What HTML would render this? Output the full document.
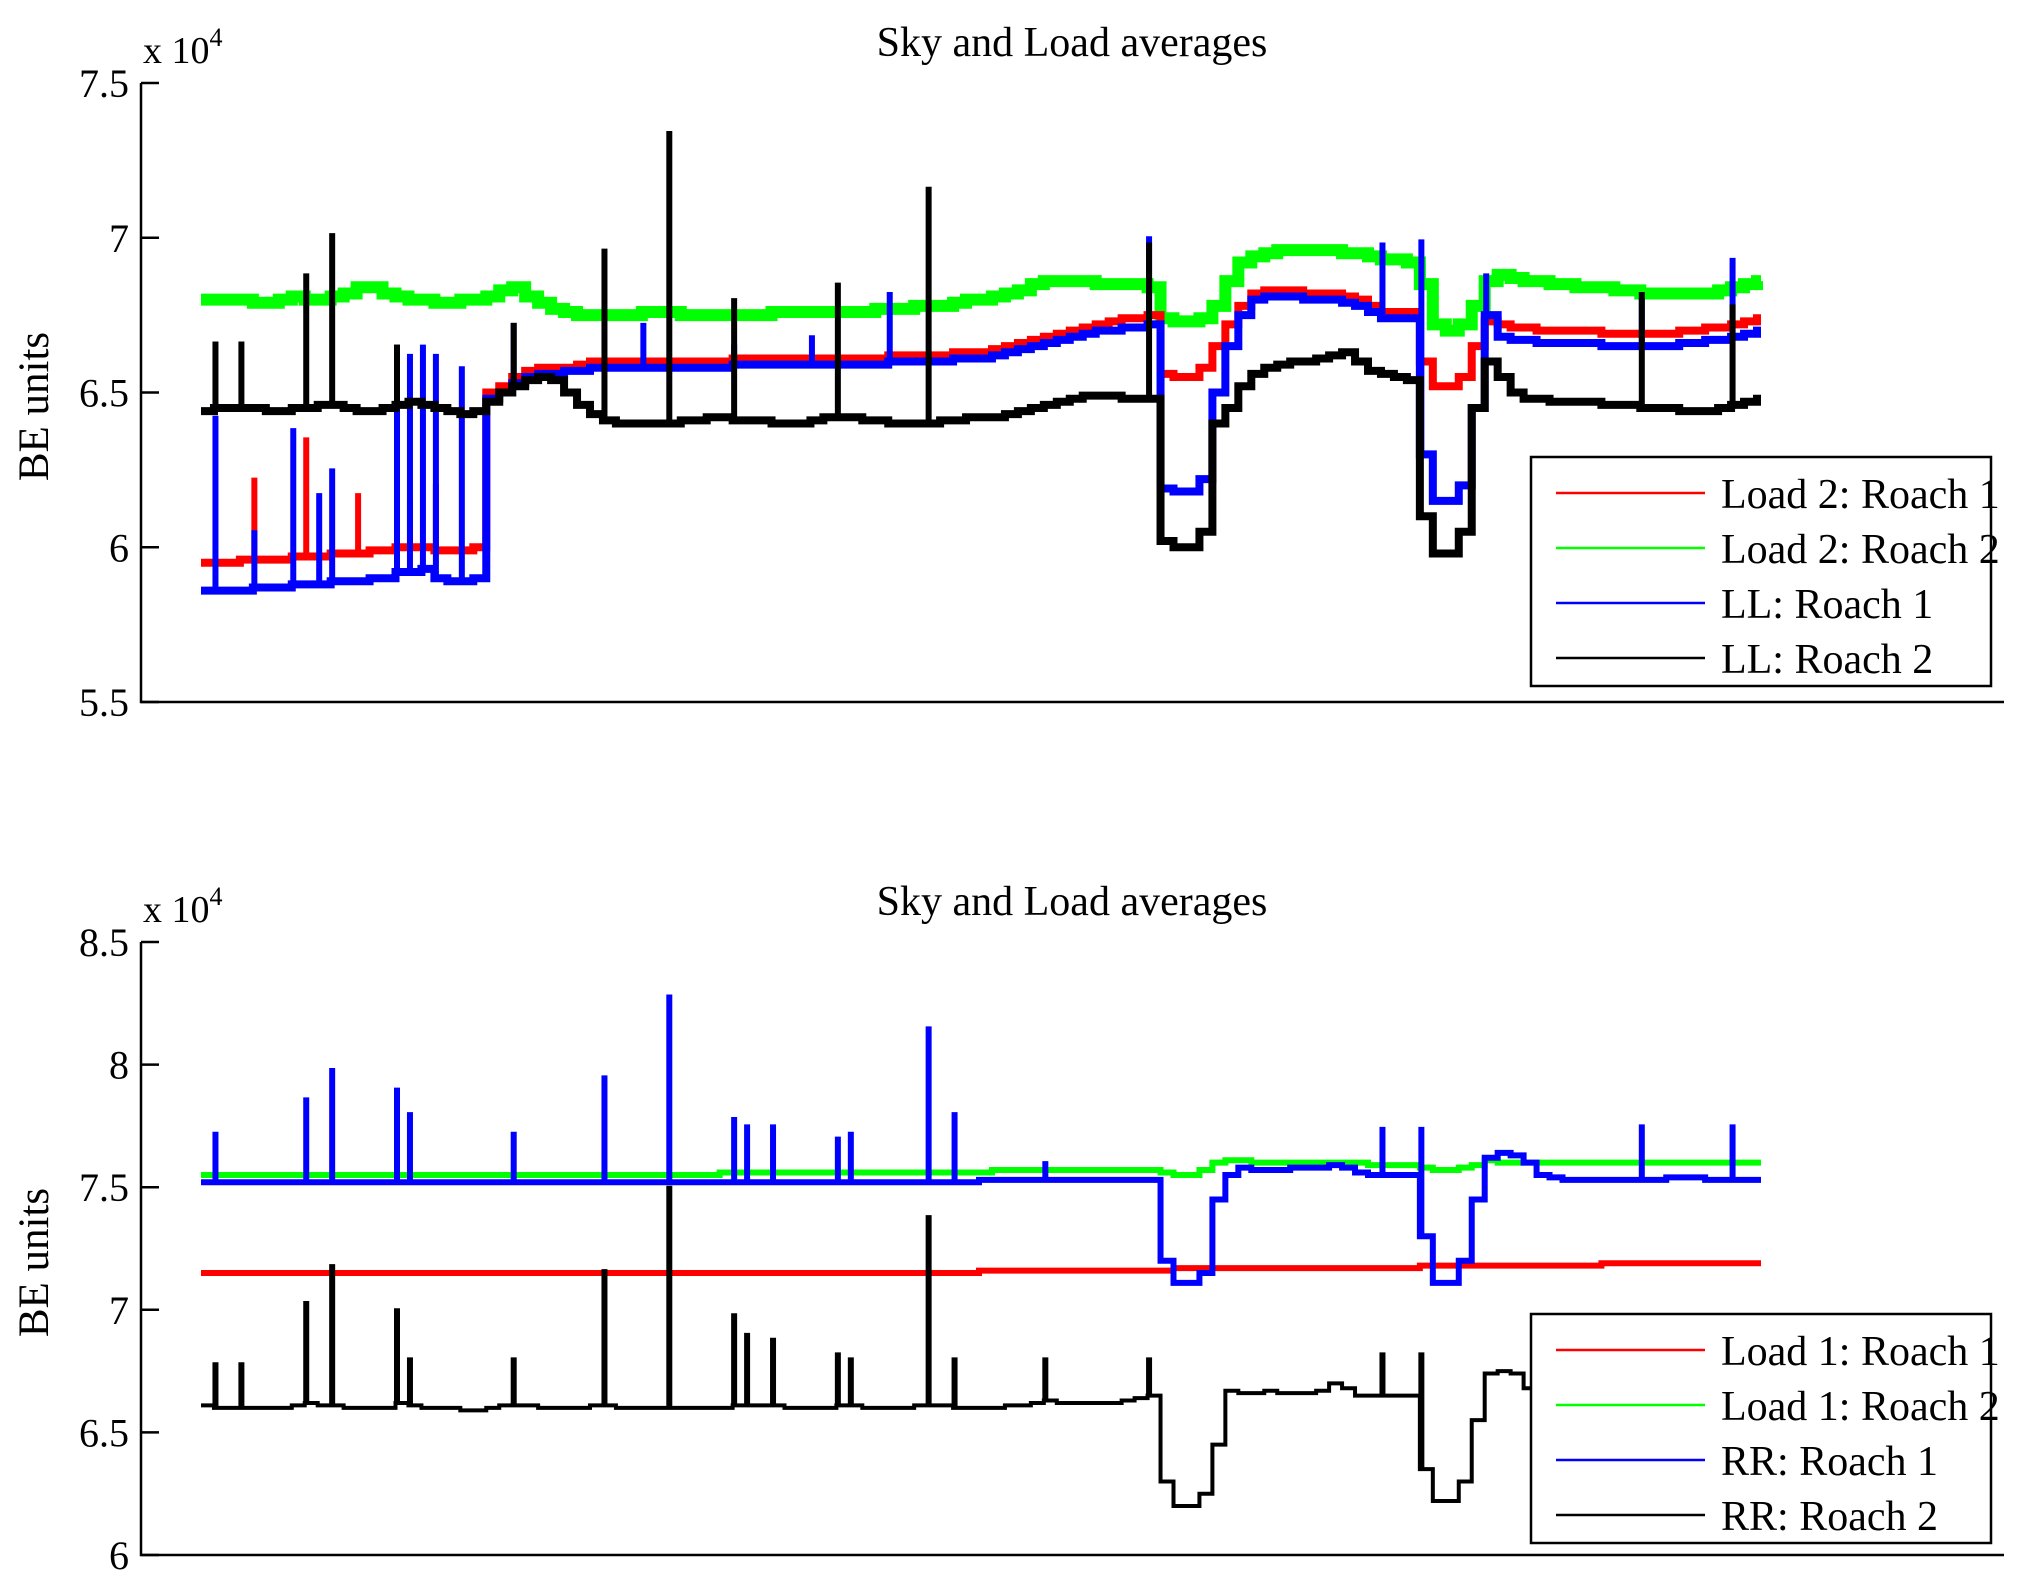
<!DOCTYPE html>
<html><head><meta charset="utf-8"><style>
body{margin:0;background:#fff}
svg{display:block}
text{font-family:"Liberation Serif",serif;fill:#000}
</style></head><body>
<svg id="chart" width="2029" height="1592" viewBox="0 0 2029 1592" xmlns="http://www.w3.org/2000/svg">
<rect width="2029" height="1592" fill="#fff"/>
<g id="top"></g>
<g id="bot"></g>
</svg>
<script>
const N = 121;
const topTicks = [5.5, 6, 6.5, 7, 7.5];
const botTicks = [6, 6.5, 7, 7.5, 8, 8.5];
const topTickLabels = ["5.5","6","6.5","7","7.5"];
const botTickLabels = ["6","6.5","7","7.5","8","8.5"];

const topRed = [5.95,5.95,5.95,5.96,5.96,5.96,5.96,5.97,5.97,5.97,5.98,5.98,5.98,5.99,5.99,6.00,6.00,6.00,5.99,5.99,5.99,6.00,
6.50,6.52,6.55,6.57,6.58,6.58,6.58,6.59,6.60,
6.60,6.60,6.60,6.60,6.60,6.60,6.60,6.60,6.60,6.60,6.61,6.61,6.61,6.61,6.61,6.61,6.61,6.61,6.61,6.61,6.61,6.61,6.62,6.62,6.62,6.62,6.62,6.63,6.63,6.63,
6.64,6.65,6.66,6.67,6.68,6.69,6.70,6.71,6.72,6.73,6.74,6.74,6.75,
6.56,6.55,6.55,6.58,6.65,6.72,6.78,
6.82,6.83,6.83,6.83,6.82,6.82,6.82,6.81,6.80,6.78,6.76,6.76,6.76,
6.60,6.52,6.52,6.55,6.65,6.73,
6.72,6.71,6.71,6.70,6.70,6.70,6.70,6.70,6.69,6.69,6.69,6.69,6.69,6.69,6.70,6.70,6.71,6.71,6.72,6.73,6.74];
const topGreen = [6.80,6.80,6.80,6.80,6.79,6.79,6.80,6.81,6.80,6.80,6.81,6.82,6.84,6.84,6.82,6.81,6.80,6.80,6.79,6.79,6.80,6.80,6.81,6.83,6.84,
6.81,6.79,6.77,6.76,6.75,6.75,6.75,6.75,6.75,6.76,6.76,6.76,6.75,6.75,6.75,6.75,6.75,6.75,6.75,6.76,6.76,
6.76,6.76,6.76,6.76,6.76,6.76,6.77,6.77,6.77,6.78,6.78,6.78,6.79,6.80,6.80,6.81,6.82,6.83,6.85,6.86,6.86,6.86,6.86,6.85,6.85,6.85,6.85,6.84,
6.74,6.73,6.73,6.74,6.78,6.86,
6.92,6.94,6.95,6.96,6.96,6.96,6.96,6.96,6.95,6.95,6.94,6.93,6.93,6.92,
6.85,6.72,6.70,6.72,6.78,6.86,
6.88,6.87,6.86,6.86,6.85,6.85,6.84,6.84,6.84,6.83,6.83,6.82,6.82,6.82,6.82,6.82,6.82,6.83,6.84,6.85,6.86];
const topBlue = [5.86,5.86,5.86,5.86,5.87,5.87,5.87,5.88,5.88,5.88,5.89,5.89,5.89,5.90,5.90,5.92,5.92,5.93,5.90,5.89,5.89,5.90,
6.48,6.50,6.53,6.55,6.56,6.56,6.57,6.57,6.58,
6.58,6.58,6.58,6.58,6.58,6.58,6.58,6.58,6.58,6.58,6.59,6.59,6.59,6.59,6.59,6.59,6.59,6.59,6.59,6.59,6.59,6.59,6.60,6.60,6.60,6.60,6.60,6.61,6.61,6.61,
6.62,6.63,6.64,6.65,6.66,6.67,6.68,6.69,6.70,6.70,6.71,6.71,6.72,
6.19,6.18,6.18,6.22,6.50,6.65,6.75,
6.80,6.81,6.81,6.81,6.80,6.80,6.80,6.79,6.78,6.76,6.74,6.74,6.74,
6.30,6.15,6.15,6.20,6.45,6.75,
6.68,6.67,6.67,6.66,6.66,6.66,6.66,6.66,6.65,6.65,6.65,6.65,6.65,6.65,6.66,6.66,6.67,6.67,6.68,6.69,6.70];
const topBlack = [6.44,6.45,6.45,6.45,6.45,6.44,6.44,6.45,6.45,6.46,6.46,6.45,6.44,6.44,6.45,6.46,6.47,6.46,6.45,6.44,6.43,6.44,
6.47,6.50,6.52,6.54,6.55,6.54,6.50,6.46,6.43,
6.41,6.40,6.40,6.40,6.40,6.40,6.41,6.41,6.42,6.42,6.41,6.41,6.41,6.40,6.40,6.40,6.41,6.42,6.42,6.42,6.41,6.41,6.40,6.40,6.40,6.40,6.41,6.41,6.42,6.42,
6.42,6.43,6.44,6.45,6.46,6.47,6.48,6.49,6.49,6.49,6.48,6.48,6.48,
6.02,6.00,6.00,6.05,6.40,6.45,6.52,
6.56,6.58,6.59,6.60,6.60,6.61,6.62,6.63,6.60,6.57,6.56,6.55,6.54,
6.10,5.98,5.98,6.05,6.45,6.60,
6.55,6.50,6.48,6.48,6.47,6.47,6.47,6.47,6.46,6.46,6.46,6.45,6.45,6.45,6.44,6.44,6.44,6.45,6.46,6.47,6.48];
const topBlackSpikeIdx = [1,3,8,10,15,24,31,36,41,49,56,73,111,118];
const topBlackSpikeVal = [6.66,6.66,6.88,7.01,6.65,6.72,6.96,7.34,6.80,6.85,7.16,6.98,6.82,6.78];
const topBlueSpikeIdx = [1,4,7,9,10,15,16,17,18,20,24,34,41,47,53,73,91,94,99,111,118];
const topBlueSpikeVal = [6.42,6.05,6.38,6.17,6.25,6.65,6.62,6.65,6.62,6.58,6.72,6.72,6.65,6.68,6.82,7.00,6.98,6.99,6.88,6.80,6.93];
const topRedSpikeIdx = [4,8,12,16,18];
const topRedSpikeVal = [6.22,6.35,6.17,6.15,6.20];

const botGreen = [7.55,7.55,7.55,7.55,7.55,7.55,7.55,7.55,7.55,7.55,7.55,7.55,7.55,7.55,7.55,7.55,7.55,7.55,7.55,7.55,
7.55,7.55,7.55,7.55,7.55,7.55,7.55,7.55,7.55,7.55,7.55,7.55,7.55,7.55,7.55,7.55,7.55,7.55,7.55,7.55,
7.56,7.56,7.56,7.56,7.56,7.56,7.56,7.56,7.56,7.56,7.56,7.56,7.56,7.56,7.56,7.56,7.56,7.56,7.56,7.56,7.56,
7.57,7.57,7.57,7.57,7.57,7.57,7.57,7.57,7.57,7.57,7.57,7.57,7.57,
7.56,7.55,7.55,7.57,
7.60,7.61,7.61,7.60,7.60,7.60,7.60,7.60,7.60,7.60,7.60,7.60,7.59,7.59,7.59,7.59,
7.58,7.57,7.57,7.58,7.59,7.61,
7.60,7.60,7.60,7.60,7.60,7.60,7.60,7.60,7.60,7.60,7.60,7.60,7.60,7.60,7.60,7.60,7.60,7.60,7.60,7.60,7.60];
const botRed = [7.15,7.15,7.15,7.15,7.15,7.15,7.15,7.15,7.15,7.15,7.15,7.15,7.15,7.15,7.15,7.15,7.15,7.15,7.15,7.15,
7.15,7.15,7.15,7.15,7.15,7.15,7.15,7.15,7.15,7.15,7.15,7.15,7.15,7.15,7.15,7.15,7.15,7.15,7.15,7.15,
7.15,7.15,7.15,7.15,7.15,7.15,7.15,7.15,7.15,7.15,7.15,7.15,7.15,7.15,7.15,7.15,7.15,7.15,7.15,7.15,
7.16,7.16,7.16,7.16,7.16,7.16,7.16,7.16,7.16,7.16,7.16,7.16,7.16,7.16,7.16,
7.17,7.17,7.17,7.17,7.17,7.17,7.17,7.17,7.17,7.17,7.17,7.17,7.17,7.17,7.17,7.17,7.17,7.17,7.17,
7.18,7.18,7.18,7.18,7.18,7.18,7.18,7.18,7.18,7.18,7.18,7.18,7.18,7.18,
7.19,7.19,7.19,7.19,7.19,7.19,7.19,7.19,7.19,7.19,7.19,7.19,7.19];
const botBlue = [7.52,7.52,7.52,7.52,7.52,7.52,7.52,7.52,7.52,7.52,7.52,7.52,7.52,7.52,7.52,7.52,7.52,7.52,7.52,7.52,
7.52,7.52,7.52,7.52,7.52,7.52,7.52,7.52,7.52,7.52,7.52,7.52,7.52,7.52,7.52,7.52,7.52,7.52,7.52,7.52,
7.52,7.52,7.52,7.52,7.52,7.52,7.52,7.52,7.52,7.52,7.52,7.52,7.52,7.52,7.52,7.52,7.52,7.52,7.52,7.52,
7.53,7.53,7.53,7.53,7.53,7.53,7.53,7.53,7.53,7.53,7.53,7.53,7.53,7.53,
7.20,7.11,7.11,7.15,
7.45,7.55,7.58,7.57,7.57,7.57,7.58,7.58,7.58,7.59,7.58,7.56,7.55,7.55,7.55,7.55,
7.30,7.11,7.11,7.20,7.45,7.62,
7.64,7.63,7.60,7.55,7.54,7.53,7.53,7.53,7.53,7.53,7.53,7.53,7.53,7.54,7.54,7.54,7.53,7.53,7.53,7.53,7.53];
const botBlack = [6.61,6.60,6.60,6.60,6.60,6.60,6.60,6.61,6.62,6.61,6.61,6.60,6.60,6.60,6.60,6.62,6.61,6.60,6.60,6.60,
6.59,6.59,6.60,6.61,6.61,6.61,6.60,6.60,6.60,6.60,6.61,6.61,6.60,6.60,6.60,6.60,6.60,6.60,6.60,6.60,
6.60,6.61,6.61,6.61,6.61,6.60,6.60,6.60,6.60,6.61,6.61,6.60,6.60,6.60,6.60,6.61,6.61,6.61,6.60,6.60,
6.60,6.60,6.61,6.61,6.62,6.63,6.62,6.62,6.62,6.62,6.62,6.63,6.64,6.65,
6.30,6.20,6.20,6.25,
6.45,6.67,6.66,6.66,6.67,6.66,6.66,6.66,6.67,6.70,6.68,6.65,6.65,6.65,6.65,6.65,
6.35,6.22,6.22,6.30,6.55,6.74,
6.75,6.74,6.68,6.64,6.63,6.63,6.63,6.63,6.63,6.63,6.63,6.63,6.63,6.63,6.63,6.63,6.63,6.63,6.63,6.63,6.63];
const botBlueSpikeIdx = [1,8,10,15,16,24,31,36,41,42,44,49,50,56,58,65,91,94,111,118];
const botBlueSpikeVal = [7.72,7.86,7.98,7.90,7.80,7.72,7.95,8.28,7.78,7.75,7.75,7.70,7.72,8.15,7.80,7.60,7.74,7.74,7.75,7.75];
const botBlackSpikeIdx = [1,3,8,10,15,16,24,31,36,41,42,44,49,50,56,58,65,73,91,94];
const botBlackSpikeVal = [6.78,6.78,7.03,7.18,7.00,6.80,6.80,7.16,7.50,6.98,6.90,6.88,6.82,6.80,7.38,6.80,6.80,6.80,6.82,6.82];

const NS = "http://www.w3.org/2000/svg";
const X0 = 141, X1 = 2004, DX0 = 201, DX1 = 1757;
function xOf(i){ return DX0 + i * (DX1 - DX0) / (N - 1); }
function mk(tag, parent){ const e = document.createElementNS(NS, tag); parent.appendChild(e); return e; }

function panel(g, yTop, yBot, vMax, vMin, ticks, labels, title, series, spikes, legend, legTop){
  const yOf = v => yTop + (vMax - v) * (yBot - yTop) / (vMax - vMin);
  series.forEach(s => {
    let pts = [];
    for (let i = 0; i < s.data.length; i++) {
      const y = yOf(s.data[i]);
      pts.push(xOf(i) + "," + y, (i < s.data.length - 1 ? xOf(i + 1) : xOf(i) + 4) + "," + y);
    }
    const pl = mk("polyline", g);
    
    
    pl.setAttribute("points", pts.join(" "));
    pl.setAttribute("fill", "none");
    pl.setAttribute("stroke", s.color);
    pl.setAttribute("stroke-width", s.w);
    const sp = spikes[s.name];
    if (sp) {
      for (let k = 0; k < sp.idx.length; k++) {
        const i = sp.idx[k];
        const ln = mk("path", g);
        
        
        const xa = xOf(i), xb = xOf(i) + 3, yb = yOf(s.data[i]), ya = yOf(sp.val[k]);
        ln.setAttribute("d", "M" + xa + "," + yb + "V" + ya + "H" + xb + "V" + yb);
        ln.setAttribute("fill", "none");
        ln.setAttribute("stroke", s.color);
        ln.setAttribute("stroke-width", 3);
      }
    }
  });
  const ax = mk("path", g);
  
  
  ax.setAttribute("d", "M" + X0 + "," + yTop + "V" + yBot + "H" + X1);
  ax.setAttribute("stroke", "#000"); ax.setAttribute("stroke-width", 2.5); ax.setAttribute("fill", "none");
  ticks.forEach((t, k) => {
    const y = yOf(t);
    const tk = mk("line", g);
    
    
    tk.setAttribute("x1", X0); tk.setAttribute("x2", X0 + 18); tk.setAttribute("y1", y); tk.setAttribute("y2", y);
    tk.setAttribute("stroke", "#000"); tk.setAttribute("stroke-width", 2.5);
    const tx = mk("text", g);
    
    
    tx.setAttribute("x", X0 - 12); tx.setAttribute("y", y + 14);
    tx.setAttribute("text-anchor", "end"); tx.setAttribute("font-size", "40");
    tx.textContent = labels[k];
  });
  const ex = mk("text", g);
  
  
  ex.setAttribute("x", 143); ex.setAttribute("y", yTop - 20); ex.setAttribute("font-size", "38");
  ex.innerHTML = 'x 10<tspan dy="-17" font-size="26">4</tspan>';
  const ti = mk("text", g);
  
  
  ti.setAttribute("x", 1072); ti.setAttribute("y", yTop - 27); ti.setAttribute("text-anchor", "middle"); ti.setAttribute("font-size", "42");
  ti.textContent = title;
  const yl = mk("text", g);
  
  
  const cy = (yTop + yBot) / 2 + 14;
  yl.setAttribute("transform", "translate(48," + cy + ") rotate(-90)");
  yl.setAttribute("text-anchor", "middle"); yl.setAttribute("font-size", "43");
  yl.textContent = "BE units";
  const lb = mk("rect", g);
  
  
  lb.setAttribute("x", 1531); lb.setAttribute("y", legTop); lb.setAttribute("width", 460); lb.setAttribute("height", 229);
  lb.setAttribute("fill", "#fff"); lb.setAttribute("stroke", "#000"); lb.setAttribute("stroke-width", 2.5);
  legend.forEach((L, k) => {
    const y = legTop + 36 + k * 55;
    const ll = mk("line", g);
    
    
    ll.setAttribute("x1", 1556); ll.setAttribute("x2", 1705); ll.setAttribute("y1", y); ll.setAttribute("y2", y);
    ll.setAttribute("stroke", L.color); ll.setAttribute("stroke-width", 2.5);
    const lt = mk("text", g);
    
    
    lt.setAttribute("x", 1721); lt.setAttribute("y", y + 15); lt.setAttribute("font-size", "42");
    lt.textContent = L.label;
  });
}

panel(document.getElementById("top"), 83, 702, 7.5, 5.5, topTicks, topTickLabels, "Sky and Load averages",
  [{name:"load2-roach2", data:topGreen, color:"#00ff00", w:12},
   {name:"load2-roach1", data:topRed, color:"#ff0000", w:8},
   {name:"ll-roach1", data:topBlue, color:"#0000ff", w:8},
   {name:"ll-roach2", data:topBlack, color:"#000000", w:8}],
  {"ll-roach2":{idx:topBlackSpikeIdx, val:topBlackSpikeVal},
   "ll-roach1":{idx:topBlueSpikeIdx, val:topBlueSpikeVal},
   "load2-roach1":{idx:topRedSpikeIdx, val:topRedSpikeVal}},
  [{label:"Load 2: Roach 1", color:"#ff0000"},{label:"Load 2: Roach 2", color:"#00ff00"},
   {label:"LL: Roach 1", color:"#0000ff"},{label:"LL: Roach 2", color:"#000000"}], 457);

panel(document.getElementById("bot"), 942, 1555, 8.5, 6, botTicks, botTickLabels, "Sky and Load averages",
  [{name:"load1-roach2", data:botGreen, color:"#00ff00", w:6},
   {name:"load1-roach1", data:botRed, color:"#ff0000", w:6},
   {name:"rr-roach1", data:botBlue, color:"#0000ff", w:6},
   {name:"rr-roach2", data:botBlack, color:"#000000", w:4}],
  {"rr-roach1":{idx:botBlueSpikeIdx, val:botBlueSpikeVal},
   "rr-roach2":{idx:botBlackSpikeIdx, val:botBlackSpikeVal}},
  [{label:"Load 1: Roach 1", color:"#ff0000"},{label:"Load 1: Roach 2", color:"#00ff00"},
   {label:"RR: Roach 1", color:"#0000ff"},{label:"RR: Roach 2", color:"#000000"}], 1314);
</script>
</body></html>
